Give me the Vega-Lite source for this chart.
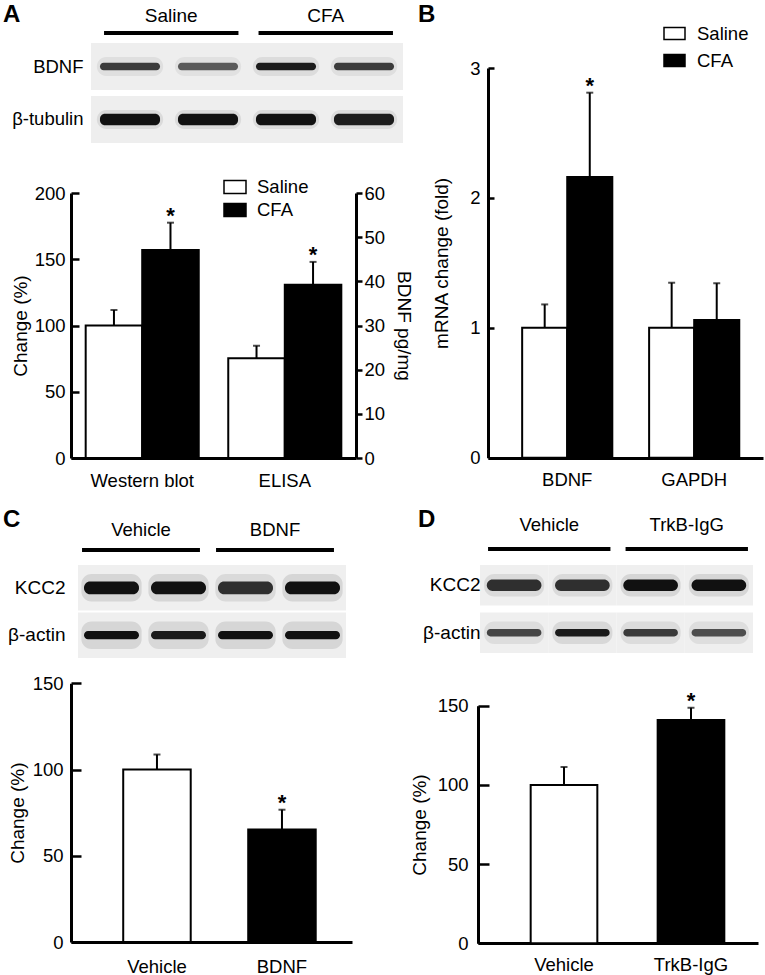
{
  "$schema": "https://vega.github.io/schema/vega-lite/v6.json",
  "width": 765,
  "height": 975,
  "padding": 0,
  "autosize": {"type": "none"},
  "background": "white",
  "config": {
    "font": "Liberation Sans",
    "view": {"stroke": null},
    "axis": {
      "grid": false, "domainColor": "black", "domainWidth": 3, "tickColor": "black", "tickWidth": 2.5,
      "labelColor": "black", "titleColor": "black", "labelFont": "Liberation Sans", "titleFont": "Liberation Sans",
      "labelFontSize": 18.5, "titleFontSize": 19, "titleFontWeight": "normal", "labelFlush": false, "labelOverlap": false
    },
    "legend": {"labelFont": "Liberation Sans", "labelColor": "black"}
  },
  "datasets": {
    "letters": [
      {"letter": "A", "col": "left", "row": "top"},
      {"letter": "B", "col": "right", "row": "top"},
      {"letter": "C", "col": "left", "row": "bottom"},
      {"letter": "D", "col": "right", "row": "bottom"}
    ],
    "hdrA": [{"group": "Saline"}, {"group": "CFA"}],
    "hdrC": [{"group": "Vehicle"}, {"group": "BDNF"}],
    "hdrD": [{"group": "Vehicle"}, {"group": "TrkB-IgG"}],
    "blotA": [
      {"protein": "BDNF", "lane": 1, "intensity": 0.8},
      {"protein": "BDNF", "lane": 2, "intensity": 0.65},
      {"protein": "BDNF", "lane": 3, "intensity": 0.95},
      {"protein": "BDNF", "lane": 4, "intensity": 0.8},
      {"protein": "β-tubulin", "lane": 1, "intensity": 1},
      {"protein": "β-tubulin", "lane": 2, "intensity": 1},
      {"protein": "β-tubulin", "lane": 3, "intensity": 1},
      {"protein": "β-tubulin", "lane": 4, "intensity": 0.95}
    ],
    "blotC": [
      {"protein": "KCC2", "lane": 1, "intensity": 1},
      {"protein": "KCC2", "lane": 2, "intensity": 1},
      {"protein": "KCC2", "lane": 3, "intensity": 0.85},
      {"protein": "KCC2", "lane": 4, "intensity": 1},
      {"protein": "β-actin", "lane": 1, "intensity": 1},
      {"protein": "β-actin", "lane": 2, "intensity": 0.95},
      {"protein": "β-actin", "lane": 3, "intensity": 1},
      {"protein": "β-actin", "lane": 4, "intensity": 1}
    ],
    "blotD": [
      {"protein": "KCC2", "lane": 1, "intensity": 0.85},
      {"protein": "KCC2", "lane": 2, "intensity": 0.85},
      {"protein": "KCC2", "lane": 3, "intensity": 1},
      {"protein": "KCC2", "lane": 4, "intensity": 1},
      {"protein": "β-actin", "lane": 1, "intensity": 0.75},
      {"protein": "β-actin", "lane": 2, "intensity": 0.95},
      {"protein": "β-actin", "lane": 3, "intensity": 0.8},
      {"protein": "β-actin", "lane": 4, "intensity": 0.7}
    ],
    "chartA": [
      {"cat": "Western blot", "treatment": "Saline", "value": 100, "hi": 111.7, "sig": ""},
      {"cat": "Western blot", "treatment": "CFA", "value": 157, "hi": 177.6, "sig": "*"},
      {"cat": "ELISA", "treatment": "Saline", "value": 22.6, "hi": 25.4, "sig": ""},
      {"cat": "ELISA", "treatment": "CFA", "value": 39.2, "hi": 44.4, "sig": "*"}
    ],
    "chartB": [
      {"gene": "BDNF", "treatment": "Saline", "value": 1.0, "hi": 1.18, "sig": ""},
      {"gene": "BDNF", "treatment": "CFA", "value": 2.16, "hi": 2.81, "sig": "*"},
      {"gene": "GAPDH", "treatment": "Saline", "value": 1.0, "hi": 1.347, "sig": ""},
      {"gene": "GAPDH", "treatment": "CFA", "value": 1.06, "hi": 1.343, "sig": ""}
    ],
    "chartC": [
      {"treatment": "Vehicle", "value": 100, "hi": 108.7, "sig": ""},
      {"treatment": "BDNF", "value": 65.2, "hi": 76.7, "sig": "*"}
    ],
    "chartD": [
      {"treatment": "Vehicle", "value": 100, "hi": 111.3, "sig": ""},
      {"treatment": "TrkB-IgG", "value": 141, "hi": 148.7, "sig": "*"}
    ]
  },
  "layer": [
    {
      "data": {"name": "letters"},
      "mark": {"type": "text", "align": "left", "baseline": "alphabetic", "fontSize": 24, "fontWeight": "bold", "color": "black"},
      "encoding": {
        "x": {"field": "col", "type": "nominal", "scale": {"type": "point", "domain": ["left", "right"], "range": [3, 418], "padding": 0}, "axis": null},
        "y": {"field": "row", "type": "nominal", "scale": {"type": "point", "domain": ["top", "bottom"], "range": [22, 527], "padding": 0}, "axis": null},
        "text": {"field": "letter"}
      }
    },
    {
      "data": {"name": "hdrA"},
      "mark": {"type": "rect", "color": "black"},
      "encoding": {
        "x": {"field": "group", "type": "nominal", "scale": {"type": "band", "domain": ["Saline", "CFA"], "range": [94, 403], "paddingInner": 0.13, "paddingOuter": 0.065},
              "axis": {"orient": "top", "offset": -33, "domain": false, "ticks": false, "tickSize": 0, "labelPadding": 11.5, "labelFontSize": 19, "labelBaseline": "alphabetic", "labelAngle": 0, "title": null}},
        "y": {"datum": "line", "type": "nominal", "scale": {"type": "band", "range": [31, 35], "paddingInner": 0, "paddingOuter": 0}, "axis": null}
      }
    },
    {
      "data": {"name": "blotA"},
      "encoding": {
        "x": {"field": "lane", "type": "ordinal", "scale": {"type": "band", "range": [91, 403], "paddingInner": 0, "paddingOuter": 0}, "axis": null},
        "y": {"field": "protein", "type": "nominal", "scale": {"type": "band", "domain": ["BDNF", "β-tubulin"], "range": [43, 143], "paddingInner": 0.113, "paddingOuter": 0},
              "axis": {"orient": "left", "offset": -83, "domain": false, "ticks": false, "tickSize": 0, "labelPadding": 0, "labelFontSize": 18.5, "title": null}}
      },
      "layer": [
        {"mark": {"type": "rect", "color": "#eeeeee"}},
        {"mark": {"type": "rect", "color": "black", "fillOpacity": 0.08, "width": {"band": 0.85}, "height": {"band": 0.4}, "cornerRadius": 10},
         "encoding": {"opacity": {"field": "intensity", "type": "quantitative", "scale": null, "legend": null}}},
        {"transform": [{"filter": {"field": "protein", "equal": "BDNF"}}],
         "mark": {"type": "rect", "color": "#111111", "width": {"band": 0.77}, "height": {"band": 0.16}, "cornerRadius": 4},
         "encoding": {"opacity": {"field": "intensity", "type": "quantitative", "scale": null, "legend": null}}},
        {"transform": [{"filter": {"field": "protein", "equal": "β-tubulin"}}],
         "mark": {"type": "rect", "color": "#111111", "width": {"band": 0.77}, "height": {"band": 0.24}, "cornerRadius": 5},
         "encoding": {"opacity": {"field": "intensity", "type": "quantitative", "scale": null, "legend": null}}}
      ]
    },
    {
      "data": {"name": "chartA"},
      "encoding": {
        "x": {"field": "cat", "type": "nominal", "scale": {"type": "band", "domain": ["Western blot", "ELISA"], "range": [71, 356], "paddingInner": 0.207, "paddingOuter": 0.103},
              "axis": {"orient": "bottom", "offset": -517, "ticks": false, "tickSize": 0, "labelPadding": 13, "labelAngle": 0, "labelBaseline": "top", "title": null}},
        "xOffset": {"field": "treatment", "type": "nominal", "scale": {"domain": ["Saline", "CFA"], "paddingInner": 0, "paddingOuter": 0}}
      },
      "layer": [
        {
          "transform": [{"filter": {"field": "cat", "equal": "Western blot"}}],
          "encoding": {
            "y": {"field": "value", "type": "quantitative", "scale": {"domain": [0, 200], "range": [458, 193], "nice": false},
                  "axis": {"orient": "left", "offset": -71, "values": [0, 50, 100, 150, 200], "tickSize": -8, "labelPadding": 14, "title": "Change (%)", "titlePadding": 4}}
          },
          "layer": [
            {"mark": {"type": "bar", "stroke": "black", "strokeWidth": 2},
             "encoding": {"fill": {"field": "treatment", "type": "nominal", "scale": {"domain": ["Saline", "CFA"], "range": ["white", "black"]},
               "legend": {"orient": "none", "legendX": 223, "legendY": 175, "title": null, "symbolType": "M-1,-0.58H1V0.58H-1Z", "symbolSize": 484, "symbolStrokeColor": "black", "symbolStrokeWidth": 1.5, "labelFontSize": 18.5, "labelOffset": 10, "rowPadding": 1, "padding": 0}}}},
            {"mark": {"type": "rule", "color": "black", "strokeWidth": 2}, "encoding": {"y2": {"field": "hi"}}},
            {"mark": {"type": "tick", "color": "black", "thickness": 2, "size": 7}, "encoding": {"y": {"field": "hi", "type": "quantitative"}}},
            {"mark": {"type": "text", "fontSize": 22, "fontWeight": "bold", "baseline": "alphabetic", "color": "black"}, "encoding": {"y": {"field": "hi", "type": "quantitative"}, "text": {"field": "sig"}}}
          ]
        },
        {
          "transform": [{"filter": {"field": "cat", "equal": "ELISA"}}],
          "encoding": {
            "y": {"field": "value", "type": "quantitative", "scale": {"domain": [0, 60], "range": [458, 193], "nice": false},
                  "axis": {"orient": "right", "offset": -409, "values": [0, 10, 20, 30, 40, 50, 60], "tickSize": 6, "labelPadding": 2, "title": "BDNF pg/mg", "titlePadding": 9}}
          },
          "layer": [
            {"mark": {"type": "bar", "stroke": "black", "strokeWidth": 2},
             "encoding": {"fill": {"field": "treatment", "type": "nominal", "scale": {"domain": ["Saline", "CFA"], "range": ["white", "black"]},
               "legend": {"orient": "none", "legendX": 223, "legendY": 175, "title": null, "symbolType": "M-1,-0.58H1V0.58H-1Z", "symbolSize": 484, "symbolStrokeColor": "black", "symbolStrokeWidth": 1.5, "labelFontSize": 18.5, "labelOffset": 10, "rowPadding": 1, "padding": 0}}}},
            {"mark": {"type": "rule", "color": "black", "strokeWidth": 2}, "encoding": {"y2": {"field": "hi"}}},
            {"mark": {"type": "tick", "color": "black", "thickness": 2, "size": 7}, "encoding": {"y": {"field": "hi", "type": "quantitative"}}},
            {"mark": {"type": "text", "fontSize": 22, "fontWeight": "bold", "baseline": "alphabetic", "color": "black"}, "encoding": {"y": {"field": "hi", "type": "quantitative"}, "text": {"field": "sig"}}}
          ]
        }
      ],
      "resolve": {"scale": {"y": "independent"}, "axis": {"y": "independent"}}
    },
    {
      "data": {"name": "chartB"},
      "encoding": {
        "x": {"field": "gene", "type": "nominal", "scale": {"type": "band", "domain": ["BDNF", "GAPDH"], "range": [488, 763], "paddingInner": 0.29, "paddingOuter": 0.228, "align": 0.59},
              "axis": {"orient": "bottom", "offset": -517, "ticks": false, "tickSize": 0, "labelPadding": 12, "labelAngle": 0, "labelBaseline": "top", "title": null}},
        "xOffset": {"field": "treatment", "type": "nominal", "scale": {"domain": ["Saline", "CFA"], "paddingInner": 0, "paddingOuter": 0}},
        "y": {"field": "value", "type": "quantitative", "scale": {"domain": [0, 3], "range": [457.7, 68], "nice": false},
              "axis": {"orient": "left", "offset": -488, "values": [0, 1, 2, 3], "tickSize": -6, "labelPadding": 14, "title": "mRNA change (fold)", "titlePadding": 18}}
      },
      "layer": [
        {"mark": {"type": "bar", "stroke": "black", "strokeWidth": 2},
         "encoding": {"fill": {"field": "treatment", "type": "nominal", "scale": {"domain": ["Saline", "CFA"], "range": ["white", "black"]},
           "legend": {"orient": "none", "legendX": 663, "legendY": 22, "title": null, "symbolType": "M-1,-0.58H1V0.58H-1Z", "symbolSize": 441, "symbolStrokeColor": "black", "symbolStrokeWidth": 1.5, "labelFontSize": 18.5, "labelOffset": 11, "rowPadding": 6, "padding": 0}}}},
        {"mark": {"type": "rule", "color": "black", "strokeWidth": 2}, "encoding": {"y2": {"field": "hi"}}},
        {"mark": {"type": "tick", "color": "black", "thickness": 2, "size": 7}, "encoding": {"y": {"field": "hi", "type": "quantitative"}}},
        {"mark": {"type": "text", "fontSize": 22, "fontWeight": "bold", "baseline": "alphabetic", "color": "black"}, "encoding": {"y": {"field": "hi", "type": "quantitative"}, "text": {"field": "sig"}}}
      ]
    },
    {
      "data": {"name": "hdrC"},
      "mark": {"type": "rect", "color": "black"},
      "encoding": {
        "x": {"field": "group", "type": "nominal", "scale": {"type": "band", "domain": ["Vehicle", "BDNF"], "range": [76, 340], "paddingInner": 0.12, "paddingOuter": 0.045},
              "axis": {"orient": "top", "offset": -550, "domain": false, "ticks": false, "tickSize": 0, "labelPadding": 15, "labelFontSize": 18.5, "labelBaseline": "alphabetic", "labelAngle": 0, "title": null}},
        "y": {"datum": "line", "type": "nominal", "scale": {"type": "band", "range": [548, 552], "paddingInner": 0, "paddingOuter": 0}, "axis": null}
      }
    },
    {
      "data": {"name": "blotC"},
      "encoding": {
        "x": {"field": "lane", "type": "ordinal", "scale": {"type": "band", "range": [78, 346], "paddingInner": 0, "paddingOuter": 0}, "axis": null},
        "y": {"field": "protein", "type": "nominal", "scale": {"type": "band", "domain": ["KCC2", "β-actin"], "range": [565, 658], "paddingInner": 0.04, "paddingOuter": 0},
              "axis": {"orient": "left", "offset": -65, "domain": false, "ticks": false, "tickSize": 0, "labelPadding": 0, "labelFontSize": 19, "title": null}}
      },
      "layer": [
        {"mark": {"type": "rect", "color": "#efefef"}},
        {"mark": {"type": "rect", "color": "black", "fillOpacity": 0.1, "width": {"band": 0.9}, "height": {"band": 0.6}, "cornerRadius": 10},
         "encoding": {"opacity": {"field": "intensity", "type": "quantitative", "scale": null, "legend": null}}},
        {"transform": [{"filter": {"field": "protein", "equal": "KCC2"}}],
         "mark": {"type": "rect", "color": "#111111", "width": {"band": 0.82}, "height": {"band": 0.28}, "cornerRadius": 6},
         "encoding": {"opacity": {"field": "intensity", "type": "quantitative", "scale": null, "legend": null}}},
        {"transform": [{"filter": {"field": "protein", "equal": "β-actin"}}],
         "mark": {"type": "rect", "color": "#111111", "width": {"band": 0.82}, "height": {"band": 0.18}, "cornerRadius": 4},
         "encoding": {"opacity": {"field": "intensity", "type": "quantitative", "scale": null, "legend": null}}}
      ]
    },
    {
      "data": {"name": "chartC"},
      "encoding": {
        "x": {"field": "treatment", "type": "nominal", "scale": {"type": "band", "domain": ["Vehicle", "BDNF"], "range": [71, 352], "paddingInner": 0.46, "paddingOuter": 0.354, "align": 0.59},
              "axis": {"orient": "bottom", "offset": -33, "ticks": false, "tickSize": 0, "labelPadding": 15, "labelAngle": 0, "labelBaseline": "top", "title": null}},
        "y": {"field": "value", "type": "quantitative", "scale": {"domain": [0, 150], "range": [942, 683.3], "nice": false},
              "axis": {"orient": "left", "offset": -71, "values": [0, 50, 100, 150], "tickSize": -10, "labelPadding": 18, "title": "Change (%)", "titlePadding": 5}}
      },
      "layer": [
        {"mark": {"type": "bar", "stroke": "black", "strokeWidth": 2},
         "encoding": {"fill": {"field": "treatment", "type": "nominal", "scale": {"domain": ["Vehicle", "BDNF"], "range": ["white", "black"]}, "legend": null}}},
        {"mark": {"type": "rule", "color": "black", "strokeWidth": 2}, "encoding": {"y2": {"field": "hi"}}},
        {"mark": {"type": "tick", "color": "black", "thickness": 2, "size": 7}, "encoding": {"y": {"field": "hi", "type": "quantitative"}}},
        {"mark": {"type": "text", "fontSize": 22, "fontWeight": "bold", "baseline": "alphabetic", "color": "black"}, "encoding": {"y": {"field": "hi", "type": "quantitative"}, "text": {"field": "sig"}}}
      ]
    },
    {
      "data": {"name": "hdrD"},
      "mark": {"type": "rect", "color": "black"},
      "encoding": {
        "x": {"field": "group", "type": "nominal", "scale": {"type": "band", "domain": ["Vehicle", "TrkB-IgG"], "range": [482, 754], "paddingInner": 0.11, "paddingOuter": 0.044},
              "axis": {"orient": "top", "offset": -549, "domain": false, "ticks": false, "tickSize": 0, "labelPadding": 19, "labelFontSize": 18.5, "labelBaseline": "alphabetic", "labelAngle": 0, "title": null}},
        "y": {"datum": "line", "type": "nominal", "scale": {"type": "band", "range": [547, 551], "paddingInner": 0, "paddingOuter": 0}, "axis": null}
      }
    },
    {
      "data": {"name": "blotD"},
      "encoding": {
        "x": {"field": "lane", "type": "ordinal", "scale": {"type": "band", "range": [480, 753], "paddingInner": 0, "paddingOuter": 0}, "axis": null},
        "y": {"field": "protein", "type": "nominal", "scale": {"type": "band", "domain": ["KCC2", "β-actin"], "range": [565, 653], "paddingInner": 0.147, "paddingOuter": 0},
              "axis": {"orient": "left", "offset": -480, "domain": false, "ticks": false, "tickSize": 0, "labelPadding": 0, "labelFontSize": 19, "title": null}}
      },
      "layer": [
        {"mark": {"type": "rect", "color": "#efefef"}},
        {"mark": {"type": "rect", "color": "black", "fillOpacity": 0.1, "width": {"band": 0.88}, "height": {"band": 0.55}, "cornerRadius": 10},
         "encoding": {"opacity": {"field": "intensity", "type": "quantitative", "scale": null, "legend": null}}},
        {"transform": [{"filter": {"field": "protein", "equal": "KCC2"}}],
         "mark": {"type": "rect", "color": "#111111", "width": {"band": 0.8}, "height": {"band": 0.28}, "cornerRadius": 6},
         "encoding": {"opacity": {"field": "intensity", "type": "quantitative", "scale": null, "legend": null}}},
        {"transform": [{"filter": {"field": "protein", "equal": "β-actin"}}],
         "mark": {"type": "rect", "color": "#111111", "width": {"band": 0.8}, "height": {"band": 0.18}, "cornerRadius": 4},
         "encoding": {"opacity": {"field": "intensity", "type": "quantitative", "scale": null, "legend": null}}}
      ]
    },
    {
      "data": {"name": "chartD"},
      "encoding": {
        "x": {"field": "treatment", "type": "nominal", "scale": {"type": "band", "domain": ["Vehicle", "TrkB-IgG"], "range": [478, 758], "paddingInner": 0.475, "paddingOuter": 0.34, "align": 0.61},
              "axis": {"orient": "bottom", "offset": -32, "ticks": false, "tickSize": 0, "labelPadding": 12, "labelAngle": 0, "labelBaseline": "top", "title": null}},
        "y": {"field": "value", "type": "quantitative", "scale": {"domain": [0, 150], "range": [943.3, 705.7], "nice": false},
              "axis": {"orient": "left", "offset": -478, "values": [0, 50, 100, 150], "tickSize": -11, "labelPadding": 21, "title": "Change (%)", "titlePadding": 8}}
      },
      "layer": [
        {"mark": {"type": "bar", "stroke": "black", "strokeWidth": 2},
         "encoding": {"fill": {"field": "treatment", "type": "nominal", "scale": {"domain": ["Vehicle", "TrkB-IgG"], "range": ["white", "black"]}, "legend": null}}},
        {"mark": {"type": "rule", "color": "black", "strokeWidth": 2}, "encoding": {"y2": {"field": "hi"}}},
        {"mark": {"type": "tick", "color": "black", "thickness": 2, "size": 7}, "encoding": {"y": {"field": "hi", "type": "quantitative"}}},
        {"mark": {"type": "text", "fontSize": 22, "fontWeight": "bold", "baseline": "alphabetic", "color": "black"}, "encoding": {"y": {"field": "hi", "type": "quantitative"}, "text": {"field": "sig"}}}
      ]
    }
  ],
  "resolve": {
    "scale": {"x": "independent", "y": "independent", "xOffset": "independent", "fill": "independent", "opacity": "independent"},
    "axis": {"x": "independent", "y": "independent"},
    "legend": {"fill": "independent"}
  }
}
